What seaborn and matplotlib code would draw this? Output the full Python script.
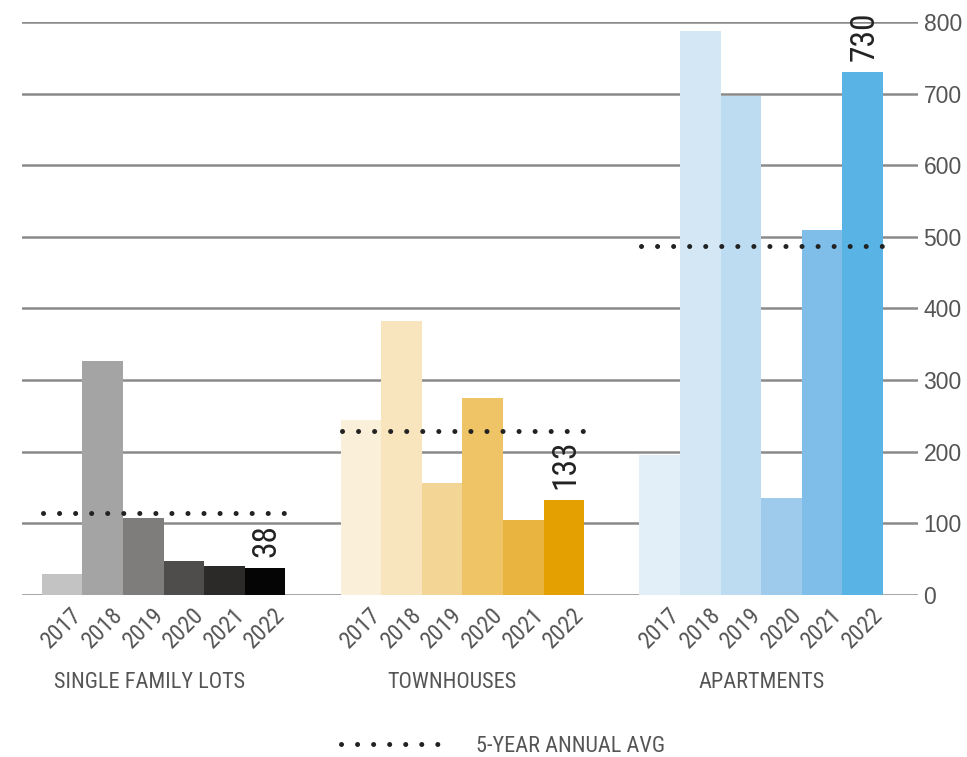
import matplotlib
matplotlib.use("Agg")
import matplotlib.pyplot as plt
import matplotlib.transforms as mtransforms
from matplotlib.lines import Line2D
import seaborn as sns
import pandas as pd

# ---------------- data ----------------
groups = ["SINGLE FAMILY LOTS", "TOWNHOUSES", "APARTMENTS"]
years = ["2017", "2018", "2019", "2020", "2021", "2022"]
single_family = [29, 327, 107, 47, 40, 38]
townhouses = [244, 383, 156, 275, 105, 133]
apartments = [196, 788, 696, 136, 509, 730]
five_year_avg = [114, 229, 487]
value_labels = ["38", "133", "730"]
y_ticks = [0, 100, 200, 300, 400, 500, 600, 700, 800]
legend_label = "5-YEAR ANNUAL AVG"

# ---------------- style ----------------
colors = {
    "SINGLE FAMILY LOTS": ["#c4c3c4", "#a5a4a5", "#7e7d7c", "#4e4d4c", "#2b2a29", "#050505"],
    "TOWNHOUSES": ["#faefd8", "#f8e5bd", "#f3d595", "#efc466", "#e9b540", "#e4a000"],
    "APARTMENTS": ["#e2eff8", "#d4e7f5", "#bedcf1", "#9ecbeb", "#7fbee8", "#5ab3e5"],
}
group_step = 7.36
text_gray = "#555555"
narrow = ["Roboto Condensed", "Archivo Narrow", "DejaVu Sans"]
regular = ["Liberation Sans", "DejaVu Sans"]

sns.set_theme(style="white")
plt.rcParams["font.family"] = regular

values_by_group = [single_family, townhouses, apartments]
rows = []
for gi, (g, vals) in enumerate(zip(groups, values_by_group)):
    for yi, (yr, v) in enumerate(zip(years, vals)):
        rows.append({"group": g, "year": yr, "key": f"{g} {yr}",
                     "pos": gi * group_step + yi, "value": v})
df = pd.DataFrame(rows)
palette = {r.key: colors[r.group][years.index(r.year)] for r in df.itertuples()}

W, H = 967, 757
fig = plt.figure(figsize=(W / 100, H / 100), dpi=100)
ax = fig.add_axes([22 / W, 1 - 595 / H, (918 - 22) / W, (595 - 22) / H])

# gridlines
for t in y_ticks:
    ax.axhline(t, color="#8a8a8a", lw=1.8, zorder=0)

sns.barplot(data=df, x="pos", y="value", hue="key", palette=palette,
            native_scale=True, dodge=False, width=1, saturation=1,
            linewidth=0, legend=False, ax=ax, zorder=2)

# 5-year average dotted lines
dot_style = dict(color="#222222", lw=3.6, linestyle=(0, (0.01, 3.2)),
                 dash_capstyle="round", zorder=4)
for gi, avg in enumerate(five_year_avg):
    x0 = gi * group_step - 0.47
    x1 = gi * group_step + 5.5
    ax.plot([x0, x1], [avg, avg], **dot_style)

# value labels on last bars
for gi, (vals, lab) in enumerate(zip(values_by_group, value_labels)):
    ax.annotate(lab, xy=(gi * group_step + 5, vals[-1]), xytext=(1, 8),
                textcoords="offset points", rotation=90, ha="center", va="bottom",
                fontsize=24, family=narrow, color="#222222", annotation_clip=False,
                zorder=5)

ax.set_xlim(-0.99, 21.08)
ax.set_ylim(0, 800)
ax.yaxis.tick_right()
ax.set_yticks(y_ticks)
ax.set_yticklabels([str(t) for t in y_ticks])
ax.tick_params(axis="y", length=0, pad=4, labelsize=16.5, labelcolor=text_gray)
ax.set_xticks(df["pos"].tolist())
ax.set_xticklabels(df["year"].tolist(), rotation=45, ha="center",
                   fontsize=17, family=narrow, color=text_gray)
ax.tick_params(axis="x", length=0, pad=6)
ax.set_xlabel("")
ax.set_ylabel("")
for s in ax.spines.values():
    s.set_visible(False)
ax.grid(False)

# group labels
trans = mtransforms.blended_transform_factory(ax.transData, fig.transFigure)
label_nudge = [-0.35, -0.25, 0.0]
for gi, g in enumerate(groups):
    ax.text(gi * group_step + 2.5 + label_nudge[gi], 1 - 683 / H, g, transform=trans,
            ha="center", va="center", fontsize=16, family=narrow, color=text_gray)

# legend
proxy = Line2D([0], [0], **{k: v for k, v in dot_style.items() if k != "zorder"})
fig.legend(handles=[proxy], labels=[legend_label], loc="center",
           bbox_to_anchor=(503 / W, 1 - 746 / H), frameon=False,
           handlelength=4.6, handletextpad=1.5,
           prop={"family": narrow, "size": 16}, labelcolor=text_gray)

fig.savefig("out.png", dpi=100)
